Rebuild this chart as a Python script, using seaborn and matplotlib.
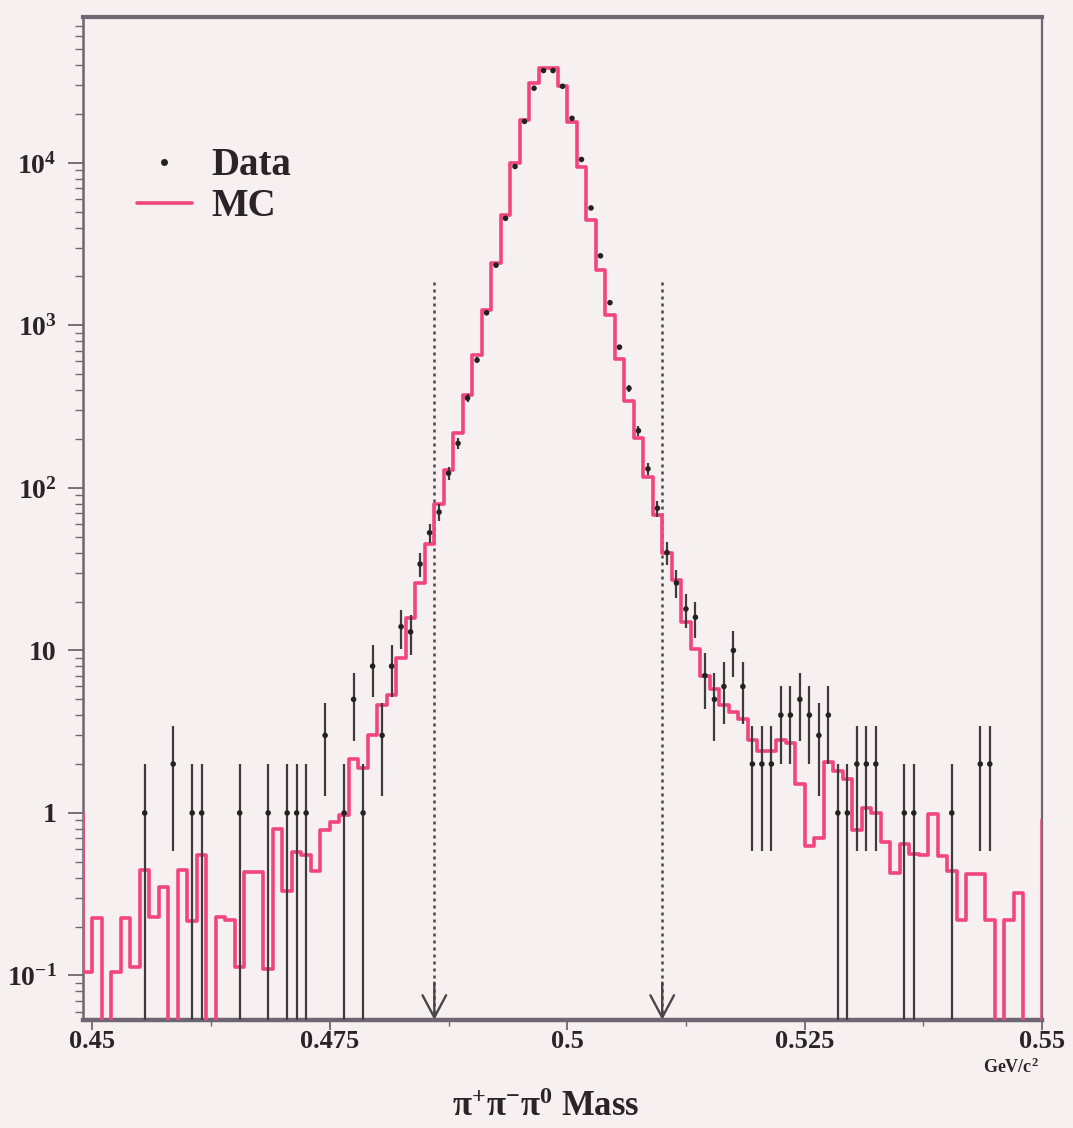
import numpy as np
import pandas as pd
import matplotlib
matplotlib.use("Agg")
import matplotlib.pyplot as plt
import seaborn as sns
from matplotlib.lines import Line2D
from matplotlib.ticker import FixedLocator, MultipleLocator, LogLocator, NullFormatter

# ---------------- data ----------------
mc_first_edge = 0.448
bin_width = 0.001
mc_counts = [
    1.0, 0.105,                                            # 0.448, 0.449
    0.225, 0, 0.105, 0.225, 0.113, 0.446, 0.23, 0.35, 0, 0.446,          # 0.450 ..
    0.215, 0.551, 0, 0.23, 0.22, 0.113, 0.435, 0.435, 0.11, 0.80,        # 0.460 ..
    0.33, 0.575, 0.55, 0.44, 0.79, 0.875, 0.97, 2.15, 1.9, 3.0,          # 0.470 ..
    4.6, 5.3, 9.0, 15.8, 26, 45, 80, 129, 217, 373,                      # 0.480 ..
    658, 1245, 2415, 4790, 9960, 18400, 30900, 38300, 38300, 29600,      # 0.490 ..
    17900, 9480, 4430, 2180, 1160, 617, 344, 202, 116, 68,               # 0.500 ..
    40, 27, 15, 10.2, 7.0, 5.8, 4.6, 4.2, 3.8, 2.8,                      # 0.510 ..
    2.4, 2.4, 2.8, 2.7, 1.5, 0.63, 0.70, 2.05, 1.8, 1.62,                # 0.520 ..
    0.79, 1.08, 1.0, 0.66, 0.43, 0.64, 0.56, 0.55, 0.98, 0.54,           # 0.530 ..
    0.44, 0.22, 0.42, 0.42, 0.22, 0, 0.22, 0.32, 0, 0,                   # 0.540 ..
    0.9,                                                                 # 0.550
]

data_mass = [
    0.4555, 0.4585, 0.4605, 0.4615, 0.4655, 0.4685, 0.4705, 0.4715, 0.4725,
    0.4745, 0.4765, 0.4775, 0.4785, 0.4795, 0.4805, 0.4815, 0.4825, 0.4835,
    0.4845, 0.4855, 0.4865, 0.4875, 0.4885, 0.4895, 0.4905, 0.4915, 0.4925,
    0.4935, 0.4945, 0.4955, 0.4965, 0.4975, 0.4985, 0.4995, 0.5005, 0.5015,
    0.5025, 0.5035, 0.5045, 0.5055, 0.5065, 0.5075, 0.5085, 0.5095, 0.5105,
    0.5115, 0.5125, 0.5135, 0.5145, 0.5155, 0.5165, 0.5175, 0.5185, 0.5195,
    0.5205, 0.5215, 0.5225, 0.5235, 0.5245, 0.5255, 0.5265, 0.5275, 0.5285,
    0.5295, 0.5305, 0.5315, 0.5325, 0.5355, 0.5365, 0.5405, 0.5435, 0.5445,
]
data_counts = [
    1, 2, 1, 1, 1, 1, 1, 1, 1,
    3, 1, 5, 1, 8, 3, 8, 14, 13,
    34, 53, 71, 123, 188, 357, 612, 1195, 2346,
    4560, 9500, 18000, 28800, 37000, 37000, 29600, 18800, 10500,
    5280, 2680, 1380, 735, 410, 225, 131, 75, 40,
    26, 18, 16, 7, 5, 6, 10, 6, 2,
    2, 2, 4, 4, 5, 4, 3, 4, 1,
    1, 2, 2, 2, 1, 1, 1, 2, 2,
]

cut_values = [0.486, 0.510]
cut_top = 1900
x_ticks = [0.45, 0.475, 0.5, 0.525, 0.55]
x_tick_labels = ["0.45", "0.475", "0.5", "0.525", "0.55"]
y_ticks = [0.1, 1, 10, 100, 1000, 10000]
y_tick_labels = [r"$\mathbf{10^{-1}}$", "1", "10", r"$\mathbf{10^{2}}$",
                 r"$\mathbf{10^{3}}$", r"$\mathbf{10^{4}}$"]
x_range = (0.449, 0.55)
y_range = (0.0532, 79000)

# ---------------- style ----------------
bg = "#f7f0f0"
pink = "#f2457e"
frame = "#6e6670"
ink = "#2a2428"
sns.set_style("ticks")
plt.rcParams.update({
    "font.family": ["Liberation Serif", "DejaVu Serif"],
    "font.weight": "bold",
    "mathtext.fontset": "custom",
    "mathtext.rm": "Liberation Serif:bold",
    "mathtext.bf": "Liberation Serif:bold",
    "mathtext.it": "Liberation Serif:bold:italic",
    "axes.facecolor": bg,
    "figure.facecolor": bg,
})

W, H = 1073, 1128
fig = plt.figure(figsize=(W / 100, H / 100), dpi=100)
ax = fig.add_axes([83 / W, 1 - 1020 / H, 959 / W, 1003 / H])

# MC step histogram
edges = mc_first_edge + bin_width * np.arange(len(mc_counts) + 1)
mc_df = pd.DataFrame({"mass": edges, "count": list(mc_counts) + [mc_counts[-1]]})
sns.lineplot(data=mc_df, x="mass", y="count", drawstyle="steps-post",
             estimator=None, sort=False, color=pink, lw=2.6, ax=ax, zorder=3)

# data with Poisson errors
data_df = pd.DataFrame({"mass": data_mass, "count": data_counts})
ax.errorbar(data_df["mass"], data_df["count"], yerr=np.sqrt(data_df["count"]),
            fmt="none", ecolor="#3f3a3d", elinewidth=1.6, capsize=0, zorder=4)
sns.scatterplot(data=data_df, x="mass", y="count", color="#222", s=16,
                edgecolor="none", ax=ax, zorder=5)

ax.set_yscale("log")
ax.set_xlim(*x_range)
ax.set_ylim(*y_range)

# cut lines with arrows
for c in cut_values:
    ax.vlines(c, y_range[0], cut_top, colors="#4a4548", linestyles=(0, (1.2, 1.6)),
              lw=1.8, zorder=2)
    ax.annotate("", xy=(c, y_range[0]), xytext=(c, y_range[0] * 1.7),
                arrowprops=dict(arrowstyle="->,head_length=1.6,head_width=0.85",
                                color="#4a4548", lw=1.7, shrinkA=0, shrinkB=0),
                zorder=2)

# axes / ticks
ax.xaxis.set_major_locator(FixedLocator(x_ticks))
ax.set_xticklabels(x_tick_labels)
ax.xaxis.set_minor_locator(MultipleLocator(0.0125))
ax.yaxis.set_major_locator(FixedLocator(y_ticks))
ax.set_yticklabels(y_tick_labels)
ax.yaxis.set_minor_locator(LogLocator(base=10, subs=np.arange(2, 10)))
ax.yaxis.set_minor_formatter(NullFormatter())
ax.tick_params(axis="x", which="major", length=7, width=1.3, color=frame,
               labelsize=19, pad=0)
ax.tick_params(axis="x", which="minor", length=4, width=1.0, color=frame)
ax.tick_params(axis="y", which="major", length=11, width=1.3, color=frame,
               labelsize=20, pad=8)
ax.tick_params(axis="y", which="minor", length=6, width=1.0, color=frame)
for lab in ax.get_xticklabels() + ax.get_yticklabels():
    lab.set_fontweight("bold")
    lab.set_color(ink)

for side, lw in [("left", 1.8), ("bottom", 3.2), ("top", 3.0), ("right", 1.6)]:
    ax.spines[side].set_visible(True)
    ax.spines[side].set_color(frame)
    ax.spines[side].set_linewidth(lw)

ax.set_xlabel("")
ax.set_ylabel("")
ax.text(0.482, -0.087, r"$\mathrm{\pi^{+}\pi^{-}\pi^{0}}$ Mass", transform=ax.transAxes,
        ha="center", va="center", fontsize=25, fontweight="bold", color=ink)
ax.text(0.968, -0.047, r"GeV/c$^{\mathbf{2}}$", transform=ax.transAxes,
        ha="center", va="center", fontsize=13, fontweight="bold", color=ink)

# legend
handles = [Line2D([], [], marker="o", markersize=4, color="#222", lw=0),
           Line2D([], [], color=pink, lw=2.6)]
leg = ax.legend(handles, ["Data", "MC"], loc="upper left",
                bbox_to_anchor=(0.02, 0.905), frameon=False,
                prop={"family": "Liberation Serif", "weight": "bold", "size": 28},
                handlelength=1.4, handletextpad=0.5, labelspacing=0.1)
for t in leg.get_texts():
    t.set_color(ink)

fig.savefig("out.png", dpi=100, facecolor=bg)
